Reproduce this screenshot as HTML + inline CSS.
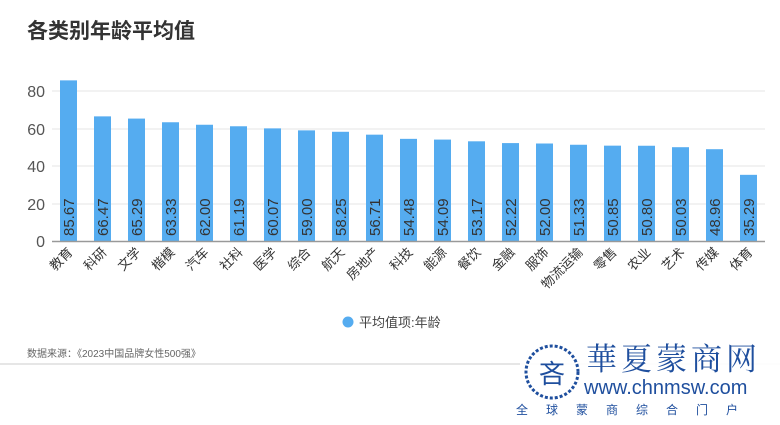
<!DOCTYPE html>
<html><head><meta charset="utf-8"><style>
body{margin:0;background:#fff;width:780px;height:420px;overflow:hidden;font-family:"Liberation Sans","Noto Sans CJK SC",sans-serif}
</style></head><body>
<svg width="780" height="420" xmlns="http://www.w3.org/2000/svg" font-family="Liberation Sans, Noto Sans CJK SC, sans-serif">
<text x="27" y="38" font-size="21" font-weight="bold" fill="#333">各类别年龄平均值</text>
<g stroke="#e6e6e6" stroke-width="1">
<line x1="52" x2="765" y1="91" y2="91"/><line x1="52" x2="765" y1="129" y2="129"/>
<line x1="52" x2="765" y1="166" y2="166"/><line x1="52" x2="765" y1="204" y2="204"/>
</g>
<g font-size="16" fill="#555" text-anchor="end">
<text x="45" y="97">80</text><text x="45" y="135">60</text><text x="45" y="172">40</text><text x="45" y="210">20</text><text x="45" y="247">0</text>
</g>
<g id="bars"></g>
<line x1="52" x2="765" y1="241.5" y2="241.5" stroke="#999" stroke-width="1.5"/>
<circle cx="348" cy="322" r="5.5" fill="#55acf0"/>
<text x="359" y="327" font-size="13" fill="#444">平均值项:年龄</text>
<text x="27" y="357" font-size="10" fill="#666">数据来源：《2023中国品牌女性500强》</text>
<line x1="0" x2="780" y1="364" y2="364" stroke="#ddd" stroke-width="1.5"/>
<rect x="520" y="336" width="260" height="84" fill="#fff" opacity="0.9"/>
<circle cx="552" cy="372" r="26" fill="none" stroke="#1f4f9e" stroke-width="3" stroke-dasharray="3 2"/>
<text x="552" y="383" font-size="26" fill="#1f4f9e" text-anchor="middle">吝</text>
<text x="586" y="370" font-size="31" fill="#1f4f9e" font-family="Noto Serif CJK SC, serif" letter-spacing="4">華夏蒙商网</text>
<text x="584" y="394" font-size="20" fill="#1f4f9e">www.chnmsw.com</text>
<text x="516" y="414" font-size="12" fill="#1f4f9e" letter-spacing="18">全球蒙商综合门户</text>
</svg>
<script>
var cats=["教育","科研","文学","楷模","汽车","社科","医学","综合","航天","房地产","科技","能源","餐饮","金融","服饰","物流运输","零售","农业","艺术","传媒","体育"];
var vals=[85.67,66.47,65.29,63.33,62.00,61.19,60.07,59.00,58.25,56.71,54.48,54.09,53.17,52.22,52.00,51.33,50.85,50.80,50.03,48.96,35.29];
var s="";
for(var i=0;i<21;i++){var cx=68.5+i*34,h=vals[i]*1.875,y=241-h;
s+='<rect x="'+(cx-8.5)+'" y="'+y+'" width="17" height="'+h+'" fill="#55acf0"/>';
s+='<text transform="translate('+(cx+5.5)+',236) rotate(-90)" font-size="15" fill="#333">'+vals[i].toFixed(2)+'</text>';
s+='<text transform="translate('+(cx+5)+',253) rotate(-45)" font-size="13" fill="#333" text-anchor="end">'+cats[i]+'</text>';}
document.getElementById("bars").innerHTML=s;
</script>
</body></html>
